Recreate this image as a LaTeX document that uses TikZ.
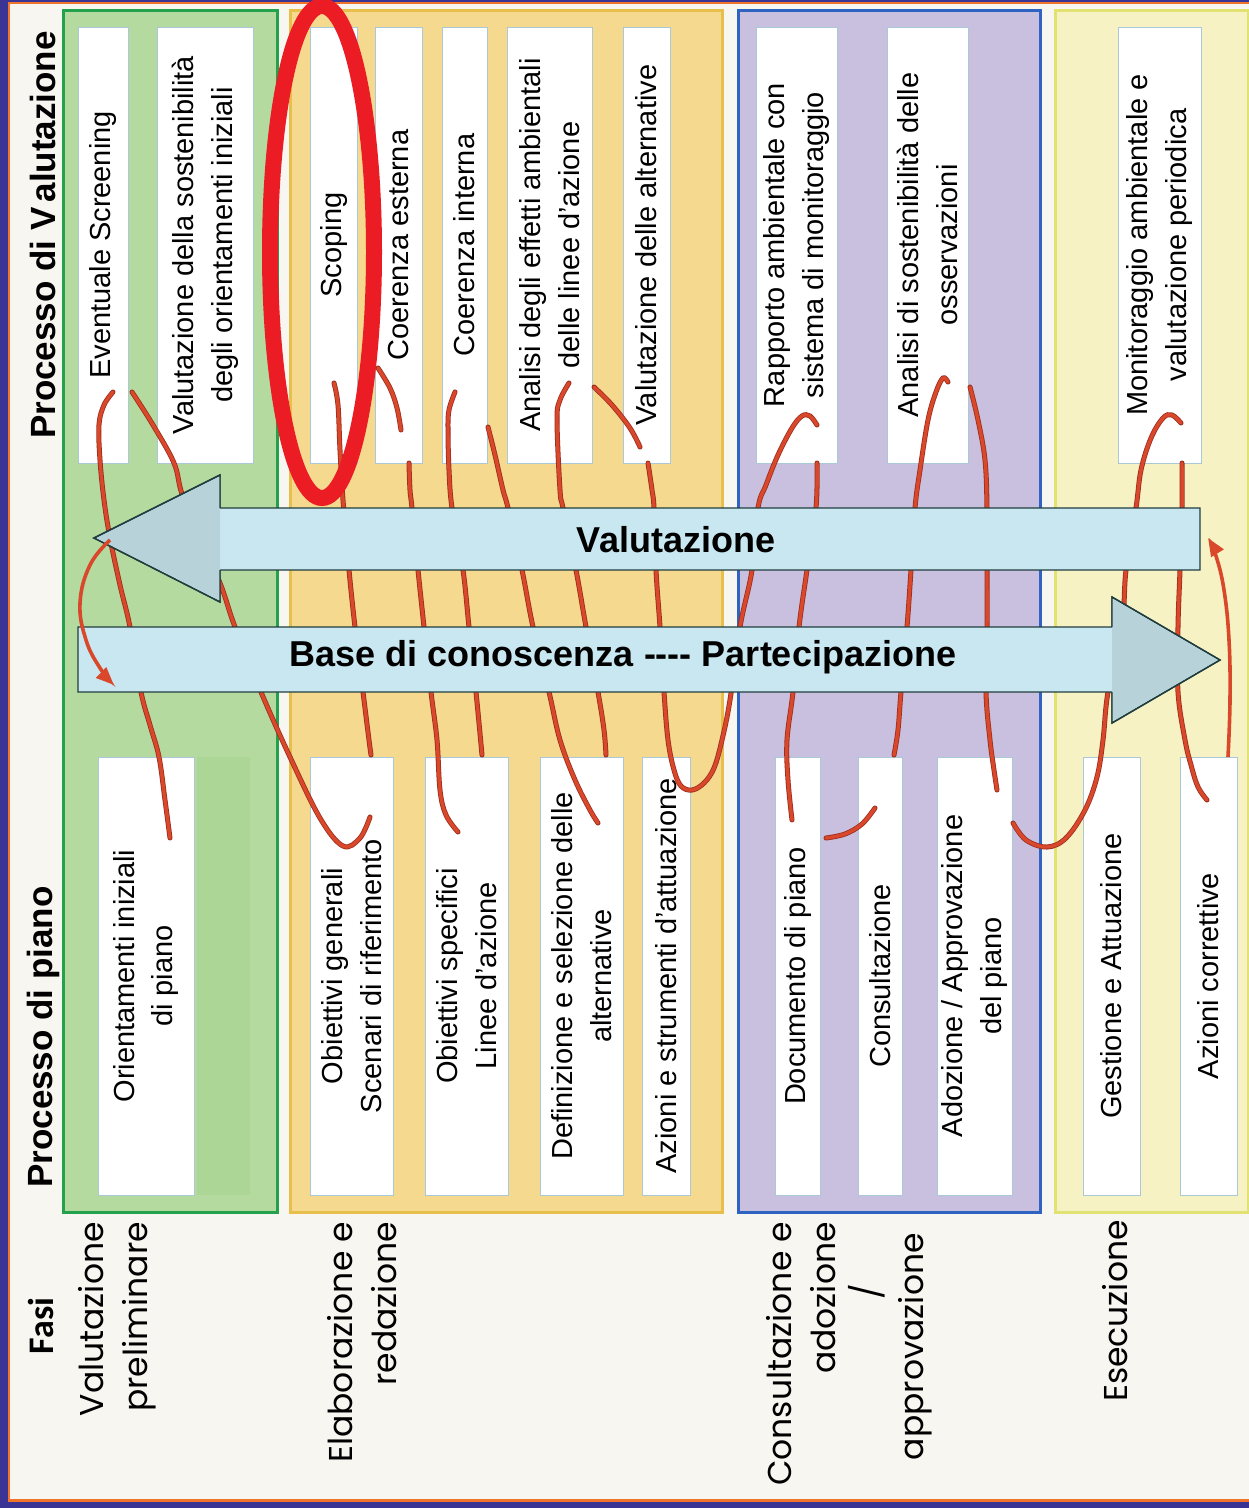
\documentclass[tikz,border=0pt]{standalone}
\usepackage{fontspec}
\setmainfont{Liberation Sans}
\newfontfamily\fasifont{Poppins}
\newfontfamily\fasititle{Carlito}
\usetikzlibrary{arrows.meta}
\definecolor{bgc}{HTML}{F8F6F1}
\definecolor{navyc}{HTML}{3A3494}
\definecolor{frameor}{HTML}{F0742A}
\definecolor{grfill}{HTML}{B4DAA0}
\definecolor{grdark}{HTML}{ACD696}
\definecolor{grline}{HTML}{23A24B}
\definecolor{orfill}{HTML}{F4D98E}
\definecolor{orline}{HTML}{E8BE4C}
\definecolor{pufill}{HTML}{C9C0DF}
\definecolor{puline}{HTML}{2E63C2}
\definecolor{yefill}{HTML}{F7F2C4}
\definecolor{yeline}{HTML}{E2E272}
\definecolor{boxline}{HTML}{A9C9D9}
\definecolor{arrfill}{HTML}{C8E7F0}
\definecolor{arrhead}{HTML}{B7D2D9}
\definecolor{arrline}{HTML}{213E3E}
\definecolor{coilc}{HTML}{D9482A}
\definecolor{coild}{HTML}{9C2E1E}
\definecolor{ellc}{HTML}{EC1C24}
\newcommand{\mkbox}[6]{\node[boxst, minimum width={#5-#4}, minimum height={#3-#2}] (#1) at ({(#2+#3)/2},{(#4+#5)/2}) {#6};}
\newcommand{\hy}{-\kern0pt}
\begin{document}
\begin{tikzpicture}[x=1pt,y=-1pt,
 boxst/.style={rotate=90, draw=boxline, fill=white, line width=0.8pt, inner sep=0pt, align=center, font=\fontsize{29}{39}\selectfont},
 panel/.style={line width=3pt},
 headst/.style={rotate=90, inner sep=0pt, font=\bfseries\fontsize{35}{40}\selectfont},
 fase/.style={rotate=90, inner sep=0pt, anchor=east, align=right, font=\fasifont\fontsize{33}{44}\selectfont},
 coil/.style={draw=coilc, line width=3.4pt, line cap=round, preaction={draw=coild, line width=5pt, line cap=round}},
 redarrow/.style={draw=coilc, line width=3.6pt, -{Triangle[length=18pt,width=14pt]}},
 bigarrow/.style={fill=arrfill, draw=arrline, line width=1.4pt, line join=miter},
 arrtext/.style={inner sep=0pt, font=\bfseries\fontsize{36}{40}\selectfont}]
\useasboundingbox (0,0) rectangle (1249,1508);
% background and frame
\fill[bgc] (0,0) rectangle (1249,1508);
\fill[navyc] (0,0) rectangle (1249,1.5);
\fill[frameor] (0,1.5) rectangle (1249,4);
\fill[frameor] (0,1499) rectangle (1249,1502);
\fill[navyc] (0,1502) rectangle (1249,1508);
\fill[navyc] (0,0) rectangle (8,1508);
\fill[frameor] (8,4) rectangle (10,1499);
% panels
\draw[panel, draw=grline, fill=grfill] (63,10) rectangle (277,1212);
\fill[grdark] (197,757) rectangle (250,1195);
\draw[panel, draw=orline, fill=orfill] (290,10) rectangle (722,1212);
\draw[panel, draw=puline, fill=pufill] (738,10) rectangle (1040,1212);
\draw[panel, draw=yeline, fill=yefill] (1055,10) rectangle (1248,1212);
% headers
\node[headst] (hval) at (43,235) {Processo di V\kern5pt alutazione};
\node[headst] (hpiano) at (43,1037) {Processo di piano};
\node[rotate=90, inner sep=0pt, font=\fasititle\bfseries\fontsize{36}{40}\selectfont] (hfasi) at (41,1326) {Fasi};
% phases
\node[fase] (f1) at (117,1222) {Valutazione\\preliminare};
\node[fase] (f2) at (362,1222) {Elaborazione e\\redazione};
\node[fase] (f3) at (849,1222) {Consultazione e\\adozione\\/\rule{62pt}{0pt}\\approvazione\rule{11pt}{0pt}};
\node[fase] (f4) at (1115,1220) {Esecuzione};
% top boxes
\mkbox{a1}{78}{128}{27}{463}{Eventuale Screening}
\mkbox{a2}{157}{253}{27}{463}{Valutazione della sostenibilità\\degli orientamenti iniziali}
\mkbox{a3}{310}{357}{27}{463}{Scoping}
\mkbox{a4}{375}{422}{27}{463}{Coerenza esterna}
\mkbox{a5}{442}{487}{27}{463}{Coerenza interna}
\mkbox{a6}{507}{592}{27}{463}{Analisi degli effetti ambientali\\delle linee d'azione}
\mkbox{a7}{623}{670}{27}{463}{Valutazione delle alternative}
\mkbox{a8}{756}{837}{27}{463}{Rapporto ambientale con\\sistema di monitoraggio}
\mkbox{a9}{887}{968}{27}{463}{Analisi di sostenibilità delle\\osservazioni}
\mkbox{a10}{1118}{1201}{27}{463}{Monitoraggio ambientale e\\valutazione periodica}
% bottom boxes
\mkbox{b1}{98}{194}{757}{1195}{Orientamenti iniziali\\di piano}
\mkbox{b2}{310}{393}{757}{1195}{Obiettivi generali\\Scenari di riferimento}
\mkbox{b3}{425}{508}{757}{1195}{Obiettivi specifici\\Linee d'azione}
\mkbox{b4}{540}{623}{757}{1195}{Definizione e selezione delle\\alternative}
\mkbox{b5}{642}{690}{757}{1195}{Azioni e strumenti d'attuazione}
\mkbox{b6}{775}{820}{757}{1195}{Documento di piano}
\mkbox{b7}{858}{902}{757}{1195}{Consultazione}
\mkbox{b8}{937}{1012}{757}{1195}{Adozione / Approvazione\\del piano}
\mkbox{b9}{1083}{1140}{757}{1195}{Gestione e Attuazione}
\mkbox{b10}{1180}{1237}{757}{1195}{Azioni correttive}
% coil
\draw[coil] plot[smooth, tension=0.6] coordinates {(113,392) (104,405) (99,425) (100,460) (104,500) (110,538) (120,585) (130,627) (141,692) (150,725) (159,757) (165,800) (170,838)};
\draw[coil] plot[smooth, tension=0.6] coordinates {(132,392) (153,425) (174,463) (182,494) (200,540) (220,583) (235,627) (261,692) (290,757) (320,818) (343,846) (360,838) (370,817)};
\draw[coil] plot[smooth, tension=0.6] coordinates {(334,383) (338,405) (340,450) (343,500) (349,570) (355,627) (363,692) (369,740) (371,755)};
\draw[coil] plot[smooth, tension=0.6] coordinates {(378,368) (390,388) (397,408) (401,430)};
\draw[coil] plot[smooth, tension=0.6] coordinates {(409,463) (410,490) (412,508) (418,570) (424,627) (431,692) (437,740) (440,790) (446,815) (458,832)};
\draw[coil] plot[smooth, tension=0.6] coordinates {(455,392) (449,410) (448,430) (449,470) (452,508) (463,570) (469,627) (476,692) (482,755)};
\draw[coil] plot[smooth, tension=0.6] coordinates {(488,427) (495,455) (503,490) (508,508) (522,570) (533,627) (549,692) (560,740) (575,780) (590,810) (598,823)};
\draw[coil] plot[smooth, tension=0.6] coordinates {(569,383) (560,400) (557,420) (560,490) (563,508) (576,570) (586,627) (598,692) (604,730) (606,755)};
\draw[coil] plot[smooth, tension=0.6] coordinates {(594,387) (612,405) (630,428) (640,447)};
\draw[coil] plot[smooth, tension=0.6] coordinates {(648,463) (652,490) (654,508) (656,570) (660,627) (664,692) (668,740) (674,770) (681,786) (692,790) (704,783) (714,768) (722,740) (730,700) (740,627) (752,570) (758,508) (766,485) (778,455) (792,428) (802,416) (810,416) (817,425)};
\draw[coil] plot[smooth, tension=0.6] coordinates {(817,463) (816,508) (807,570) (799,627) (793,692) (787,740) (788,780) (792,820)};
\draw[coil] plot[smooth, tension=0.6] coordinates {(826,838) (845,834) (862,824) (875,808)};
\draw[coil] plot[smooth, tension=0.6] coordinates {(894,755) (898,730) (901,692) (907,627) (911,570) (915,508) (920,470) (928,420) (936,392) (943,378) (948,382)};
\draw[coil] plot[smooth, tension=0.6] coordinates {(970,387) (978,420) (985,460) (987,508) (987,570) (987,627) (986,692) (990,740) (994,770) (997,790)};
\draw[coil] plot[smooth, tension=0.6] coordinates {(1013,823) (1026,840) (1047,847) (1066,838) (1085,810) (1097,777) (1103,740) (1108,692) (1122,627) (1126,570) (1136,508) (1141,470) (1151,438) (1163,418) (1172,415) (1181,423)};
\draw[coil] plot[smooth, tension=0.6] coordinates {(1182,463) (1182,508) (1180,570) (1178,627) (1178,692) (1185,740) (1191,765) (1198,787) (1207,800)};
% big arrows
\draw[bigarrow] (1200,508) -- (220,508) -- (220,475) -- (94,538) -- (220,602) -- (220,570) -- (1200,570) -- cycle;
\fill[arrhead] (220,476.5) -- (96.5,538) -- (220,600.5) -- cycle;
\draw[arrline, line width=1.4pt, line join=miter] (220,508) -- (220,475) -- (94,538) -- (220,602) -- (220,570);
\node[arrtext] (tval) at (676,540) {Valutazione};
\draw[bigarrow] (78,627) -- (1112,627) -- (1112,597) -- (1220,660) -- (1112,723) -- (1112,692) -- (78,692) -- cycle;
\fill[arrhead] (1112,598.5) -- (1217.5,660) -- (1112,721.5) -- cycle;
\draw[arrline, line width=1.4pt, line join=miter] (1112,627) -- (1112,597) -- (1220,660) -- (1112,723) -- (1112,692);
\node[arrtext] (tbase) at (623,657) {Base di conoscenza \hy\hy\hy- Partecipazione};
% scoping highlight
\draw[ellc, line width=16pt] (322,252) ellipse [x radius=52, y radius=246];
% red curved arrows
\draw[redarrow] plot[smooth, tension=0.7] coordinates {(110,540) (90,565) (80,603) (86,640) (100,668) (114,685)};
\draw[redarrow] plot[smooth, tension=0.7] coordinates {(1228,757) (1230,700) (1229,640) (1224,590) (1216,556) (1208,538)};
\end{tikzpicture}
\end{document}
